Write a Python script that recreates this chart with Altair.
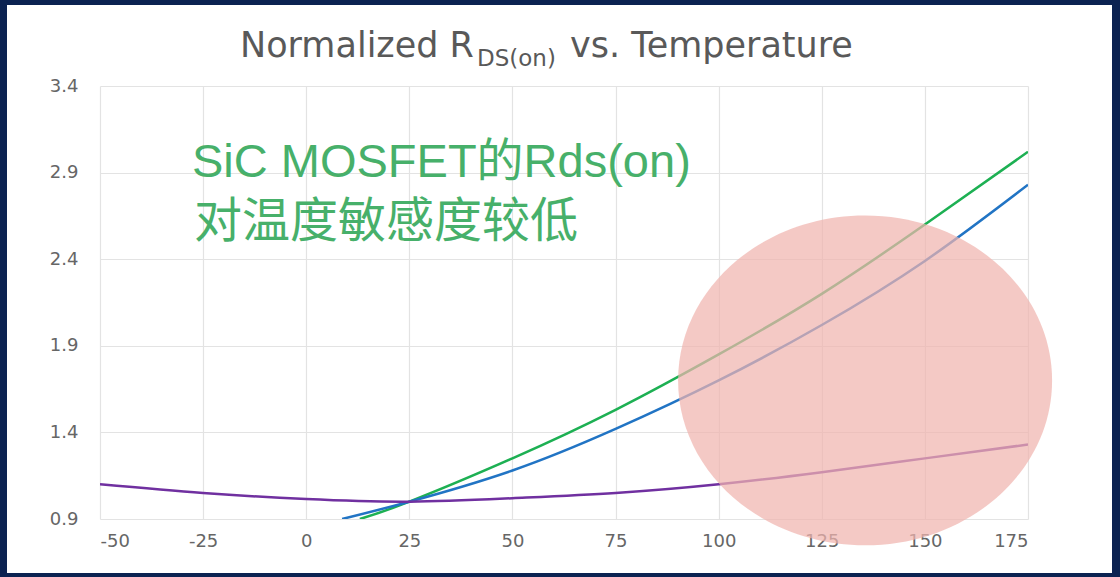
import altair as alt
import pandas as pd

# Normalized on-resistance vs. junction temperature (°C)
purple_t = [-50, -25, 0, 25, 50, 75, 100, 125, 150, 175]
purple_r = [1.10, 1.05, 1.015, 1.00, 1.02, 1.05, 1.10, 1.17, 1.25, 1.33]

blue_t = [8.7, 25, 50, 75, 100, 125, 150, 175]
blue_r = [0.90, 1.00, 1.18, 1.42, 1.70, 2.02, 2.39, 2.83]

green_t = [13, 25, 50, 75, 100, 125, 150, 175]
green_r = [0.90, 1.00, 1.25, 1.53, 1.85, 2.20, 2.60, 3.02]

series_names = ["Si MOSFET A", "Si MOSFET B", "SiC MOSFET"]
series_colors = ["#1db053", "#2174c4", "#7030a0"]

x_ticks = [-50, -25, 0, 25, 50, 75, 100, 125, 150, 175]
y_ticks = [0.9, 1.4, 1.9, 2.4, 2.9, 3.4]

# highlighted region (centre in data units)
highlight_t = [135.5]
highlight_r = [1.70]

note_lines = ["SiC MOSFET的Rds(on)", "对温度敏感度较低"]

rows = []
for name, ts, rs in [(series_names[0], green_t, green_r),
                     (series_names[1], blue_t, blue_r),
                     (series_names[2], purple_t, purple_r)]:
    for t, r in zip(ts, rs):
        rows.append({"series": name, "temp": t, "rds": r})
df = pd.DataFrame(rows)

W, H = 928, 433
FRAME = "#0b2251"

x_scale = alt.Scale(domain=[-50, 175], nice=False, zero=False)
y_scale = alt.Scale(domain=[0.9, 3.4], nice=False, zero=False)

one = alt.Data(values=[{}])

lines = alt.Chart(df).mark_line(strokeWidth=2.5, interpolate="natural", clip=True).encode(
    x=alt.X("temp:Q", scale=x_scale,
            axis=alt.Axis(values=x_ticks, title=None, labelPadding=13,
                          labelExpr="'' + datum.value")),
    y=alt.Y("rds:Q", scale=y_scale,
            axis=alt.Axis(values=y_ticks, title=None, labelPadding=22,
                          labelExpr="format(datum.value, '.1f')")),
    color=alt.Color("series:N",
                    scale=alt.Scale(domain=series_names, range=series_colors),
                    legend=None),
    detail="series:N",
)

hl_df = pd.DataFrame({"temp": highlight_t, "rds": highlight_r})
ellipse_path = "M -1 0 A 1 0.882 0 1 0 1 0 A 1 0.882 0 1 0 -1 0 Z"
highlight = alt.Chart(hl_df).mark_point(
    shape=ellipse_path, filled=True, color="#f0b4ae", opacity=0.72,
    strokeWidth=0, size=374 * 374, clip=False
).encode(
    x=alt.X("temp:Q", scale=x_scale),
    y=alt.Y("rds:Q", scale=y_scale),
)

note1 = alt.Chart(one).mark_text(
    text=note_lines[0], font="Liberation Sans, Noto Sans CJK SC", fontSize=47,
    color="#47b06a", align="left", baseline="alphabetic"
).encode(x=alt.value(92), y=alt.value(91))
note2 = alt.Chart(one).mark_text(
    text=note_lines[1], font="Noto Sans CJK SC", fontSize=48, color="#47b06a",
    align="left", baseline="alphabetic"
).encode(x=alt.value(94), y=alt.value(151))

title_font = "DejaVu Sans"
title_color = "#595959"
t1 = alt.Chart(one).mark_text(
    text="Normalized R", font=title_font, fontSize=35, color=title_color,
    align="left", baseline="alphabetic"
).encode(x=alt.value(140), y=alt.value(-29))
t2 = alt.Chart(one).mark_text(
    text="DS(on)", font=title_font, fontSize=23, color=title_color,
    align="left", baseline="alphabetic"
).encode(x=alt.value(377), y=alt.value(-20))
t3 = alt.Chart(one).mark_text(
    text="vs. Temperature", font=title_font, fontSize=35, color=title_color,
    align="left", baseline="alphabetic"
).encode(x=alt.value(470), y=alt.value(-29))

# dark frame strips around the white card
frame_left = alt.Chart(one).mark_rect(color=FRAME).encode(
    x=alt.value(-100), x2=alt.value(-93), y=alt.value(-86), y2=alt.value(491))
frame_right = alt.Chart(one).mark_rect(color=FRAME).encode(
    x=alt.value(1012), x2=alt.value(1020), y=alt.value(-86), y2=alt.value(491))
frame_top = alt.Chart(one).mark_rect(color=FRAME).encode(
    x=alt.value(-100), x2=alt.value(1020), y=alt.value(-86), y2=alt.value(-81))
frame_bottom = alt.Chart(one).mark_rect(color=FRAME).encode(
    x=alt.value(-100), x2=alt.value(1020), y=alt.value(487), y2=alt.value(491))

chart = alt.layer(
    lines, highlight, note1, note2, t1, t2, t3,
    frame_left, frame_right, frame_top, frame_bottom
).properties(
    width=W, height=H,
    background="white",
    padding={"left": 100, "top": 86, "right": 92, "bottom": 58},
    autosize=alt.AutoSizeParams(type="none"),
).configure_view(
    strokeWidth=0
).configure_axis(
    grid=True, gridColor="#e3e3e3", gridWidth=1.2,
    domain=False, ticks=False,
    labelColor="#666666", labelFont="DejaVu Sans", labelFontSize=18,
)

chart.save("out.html", embed_options={"renderer": "svg", "actions": False})
